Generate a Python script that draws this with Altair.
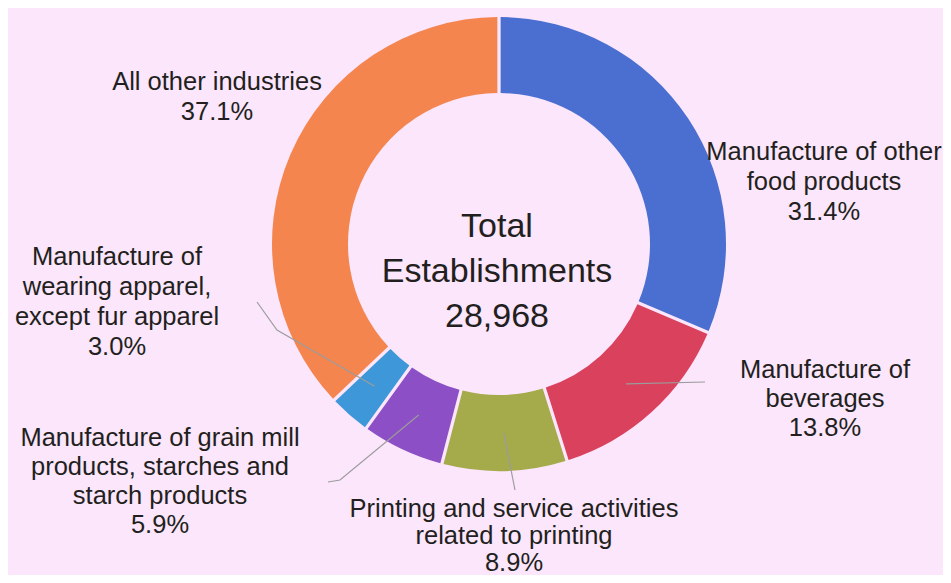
import math
import altair as alt
import pandas as pd

# ---------------- data ----------------
categories = [
    "Manufacture of other food products",
    "Manufacture of beverages",
    "Printing and service activities related to printing",
    "Manufacture of grain mill products, starches and starch products",
    "Manufacture of wearing apparel, except fur apparel",
    "All other industries",
]
shares = [31.4, 13.8, 8.9, 5.9, 3.0, 37.1]
label_lines = [
    ["Manufacture of other", "food products"],
    ["Manufacture of", "beverages"],
    ["Printing and service activities", "related to printing"],
    ["Manufacture of grain mill", "products, starches and", "starch products"],
    ["Manufacture of", "wearing apparel,", "except fur apparel"],
    ["All other industries"],
]
total_establishments = 28968
center_title = ["Total", "Establishments"]

# ---------------- styles / layout (image pixel coordinates) ----------------
colors = ["#4a6fd1", "#d9415c", "#a5aa4b", "#8c4fc5", "#3d97d8", "#f4854f"]
BG = "#fbe6fb"
TEXT = "#231f20"
FONT = "Liberation Sans"
LABEL_SIZE = 25.5
CX, CY = 499, 244
R_OUT, R_IN = 227, 151
label_anchor = [(824, 152), (825, 370), (514, 509), (160, 438), (117, 257), (217, 82)]
label_line_h = [30, 29, 27, 29, 30, 30]
leader_via = [None, [(705, 382)], [(515, 490)], [(340, 480), (328, 482)],
              [(277, 330), (257, 302)], None]
center_anchor = (497, 227)
CENTER_LINE_H = 45

W, H = 935, 567  # plot area (page 951x583 minus 8px margins)
xs = alt.Scale(domain=[8, 8 + W], nice=False, zero=False)
ys = alt.Scale(domain=[8, 8 + H], nice=False, zero=False, reverse=True)

# ---------------- tables ----------------
slices = pd.DataFrame({"category": categories, "share": shares, "idx": range(len(categories))})

total = sum(shares)
r_mid = (R_OUT + R_IN) / 2
lead_rows = []
cum = 0.0
for i, (cat, v) in enumerate(zip(categories, shares)):
    a = 2 * math.pi * (cum + v / 2) / total
    cum += v
    if leader_via[i] is None:
        continue
    pts = [(CX + r_mid * math.sin(a), CY - r_mid * math.cos(a))] + leader_via[i]
    for k, (px, py) in enumerate(pts):
        lead_rows.append({"category": cat, "ord": k, "x": px, "y": py})
leaders = pd.DataFrame(lead_rows)

text_rows = []
for i, lines in enumerate(label_lines):
    ax, ay = label_anchor[i]
    allines = lines + [f"{shares[i]:.1f}%"]
    for k, t in enumerate(allines):
        text_rows.append({"x": ax, "y": ay + k * label_line_h[i], "text": t})
labels = pd.DataFrame(text_rows)

center_lines = center_title + [f"{total_establishments:,}"]
center_df = pd.DataFrame({
    "x": [center_anchor[0]] * len(center_lines),
    "y": [center_anchor[1] + k * CENTER_LINE_H for k in range(len(center_lines))],
    "text": center_lines,
})

# ---------------- marks ----------------
donut = alt.Chart(slices).mark_arc(
    innerRadius=R_IN, outerRadius=R_OUT, padAngle=0.012
).encode(
    theta=alt.Theta("share:Q", stack=True),
    order=alt.Order("idx:Q"),
    color=alt.Color("category:N", scale=alt.Scale(domain=categories, range=colors), legend=None),
    x=alt.value(CX - 8),
    y=alt.value(CY - 8),
)

lead = alt.Chart(leaders).mark_line(color="#9c9c9c", strokeWidth=1.2).encode(
    x=alt.X("x:Q", scale=xs, axis=None),
    y=alt.Y("y:Q", scale=ys, axis=None),
    detail="category:N",
    order="ord:Q",
)

lab = alt.Chart(labels).mark_text(
    font=FONT, fontSize=LABEL_SIZE, color=TEXT, align="center", baseline="middle"
).encode(
    x=alt.X("x:Q", scale=xs, axis=None),
    y=alt.Y("y:Q", scale=ys, axis=None),
    text="text:N",
)

center = alt.Chart(center_df).mark_text(
    font=FONT, fontSize=34, color=TEXT, align="center", baseline="middle"
).encode(
    x=alt.X("x:Q", scale=xs, axis=None),
    y=alt.Y("y:Q", scale=ys, axis=None),
    text="text:N",
)

chart = alt.layer(donut, lead, lab, center).properties(
    width=W, height=H, padding=0, background=BG,
    autosize=alt.AutoSizeParams(type="none"),
).configure_view(stroke=None)

chart.save("out.html", embed_options={"renderer": "svg", "actions": False})
